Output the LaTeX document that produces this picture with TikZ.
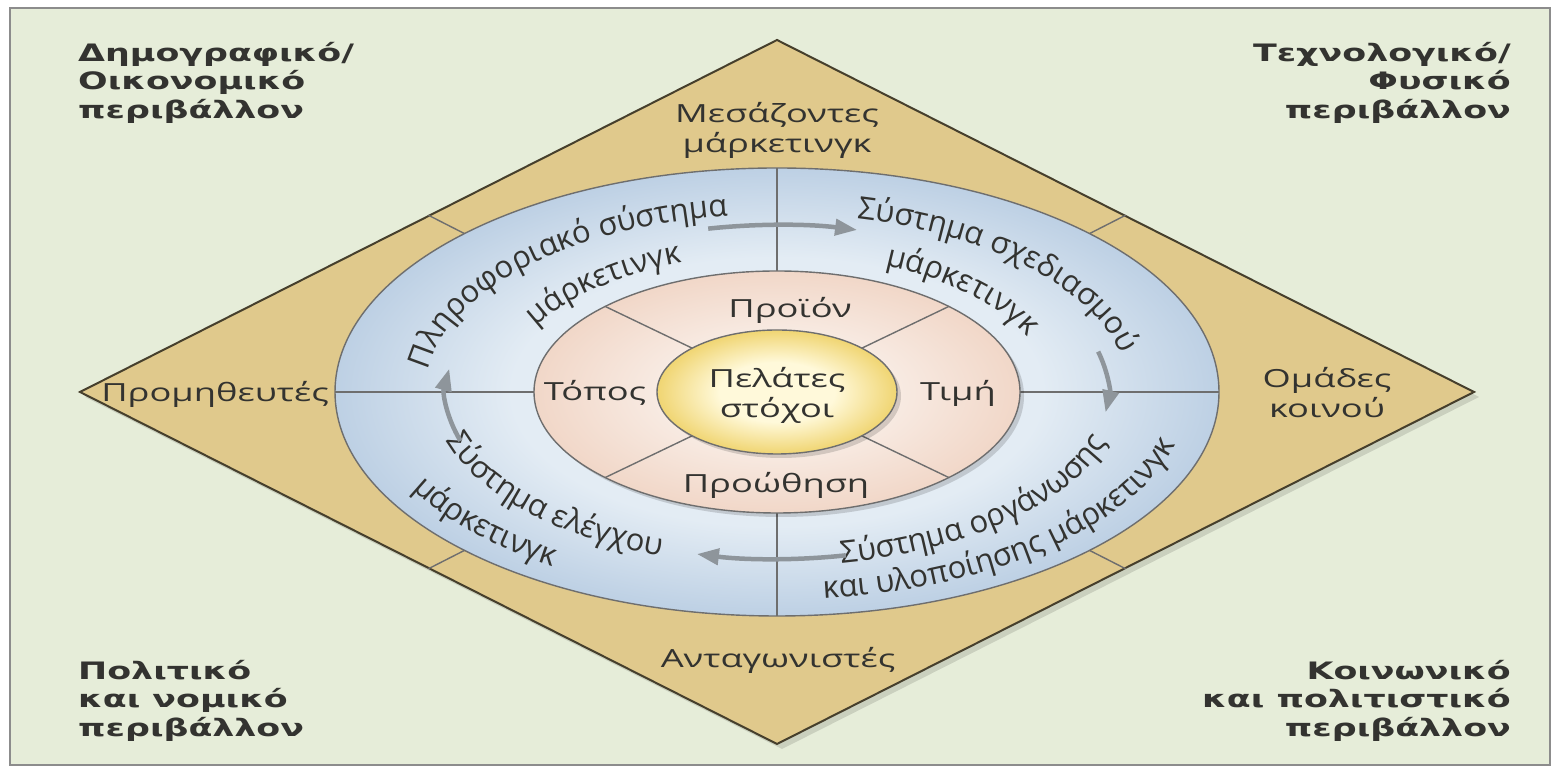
\documentclass[tikz,border=0pt]{standalone}
\usepackage{fontspec}
\usetikzlibrary{arrows.meta,decorations.text}

\newfontfamily\flatfont{Open Sans}[FakeStretch=1.45]
\newfontfamily\ringfont{Open Sans}
\newfontfamily\cornerfont{DejaVu Sans}[FakeStretch=1.45]

\definecolor{bggreen}{HTML}{E6EDD9}
\definecolor{framegray}{HTML}{8C8C8C}
\definecolor{envtan}{HTML}{E0C98C}
\definecolor{diamondline}{HTML}{463F2C}
\definecolor{ringblueout}{HTML}{BDD0E4}
\definecolor{ringbluein}{HTML}{E3ECF4}
\definecolor{mixpink}{HTML}{F1D7C8}
\definecolor{mixpinkin}{HTML}{F8EBE3}
\definecolor{coreyellow}{HTML}{F0D572}
\definecolor{coreyellowin}{HTML}{FFF9DA}
\definecolor{linegray}{HTML}{6E6E6E}
\definecolor{arrowgray}{HTML}{8E959B}
\definecolor{txtgray}{HTML}{333330}

\pgfdeclareradialshading{blueshade}{\pgfpoint{0bp}{0bp}}{%
  color(0bp)=(ringbluein); color(15bp)=(ringbluein); color(25bp)=(ringblueout); color(50bp)=(ringblueout)}
\pgfdeclareradialshading{pinkshade}{\pgfpoint{0bp}{0bp}}{%
  color(0bp)=(mixpinkin); color(12bp)=(mixpinkin); color(25bp)=(mixpink); color(50bp)=(mixpink)}
\pgfdeclareradialshading{yellowshade}{\pgfpoint{0bp}{0bp}}{%
  color(0bp)=(coreyellowin); color(12bp)=(coreyellowin); color(25bp)=(coreyellow); color(50bp)=(coreyellow)}

\tikzset{
  corner/.style={font=\cornerfont\bfseries\fontsize{24}{28.5}\selectfont, text=txtgray, inner sep=0pt},
  envlabel/.style={font=\flatfont\fontsize{25}{30}\selectfont, text=txtgray, align=center, inner sep=0pt},
  divider/.style={draw=linegray, line width=1.4pt},
  ringline/.style={draw=linegray, line width=1.4pt, shade},
  ringarrow/.style={draw=arrowgray, line width=4.5pt, -{Triangle[length=22pt, width=16pt]}},
  ringtext/.style={decorate, decoration={text along path, text align=center, text color=txtgray,
      text={|\ringfont\fontsize{31}{34}\selectfont|#1}}},
}

\begin{document}
\begin{tikzpicture}[x=1pt, y=1pt]
  %% page
  \useasboundingbox (0,0) rectangle (1558,767);
  \fill[white] (0,0) rectangle (1558,767);
  \draw[fill=bggreen, draw=framegray, line width=2pt] (10,2) rectangle (1550,759);

  %% environment diamond
  \fill[black, opacity=.12] (85,370) -- (782,722) -- (1479,370) -- (782,18) -- cycle;
  \draw[fill=envtan, draw=diamondline, line width=2pt] (80,375) -- (777,727) -- (1474,375) -- (777,23) -- cycle;

  \begin{scope}[shift={(777,375)}]
    % marketing systems
    \path[ringline, shading=blueshade] (0,0) ellipse [x radius=442, y radius=224];
    \foreach \a in {45,135,225,315}
      \draw[divider] (\a:442 and 224) -- (\a:493 and 250);
    \foreach \a in {0,90,180,270}
      \draw[divider] (\a:243 and 121) -- (\a:442 and 224);

    % marketing mix
    \fill[black, opacity=.15] (4,-4) ellipse [x radius=243, y radius=121];
    \path[ringline, shading=pinkshade] (0,0) ellipse [x radius=243, y radius=121];
    \foreach \a in {45,135,225,315}
      \draw[divider] (\a:120 and 62) -- (\a:243 and 121);

    % target customers
    \fill[black, opacity=.15] (4,-4) ellipse [x radius=120, y radius=62];
    \path[ringline, shading=yellowshade] (0,0) ellipse [x radius=120, y radius=62];

    \node[envlabel] (target) at (0,-3) {Πελάτες\\στόχοι};
    \node[envlabel] (prod)   at (13,82)   {Προϊόν};
    \node[envlabel] (price)  at (181,-1)  {Τιμή};
    \node[envlabel] (promo)  at (-1,-93)  {Προώθηση};
    \node[envlabel] (place)  at (-182,-1) {Τόπος};

    % curved system names
    \path[ringtext={Πληροφοριακό σύστημα}] (175:352 and 178) arc[start angle=175, end angle=97, x radius=352, y radius=178];
    \path[ringtext={μάρκετινγκ}] (154:273 and 138) arc[start angle=154, end angle=109, x radius=273, y radius=138];
    \path[ringtext={Σύστημα σχεδιασμού}] (78:352 and 178) arc[start angle=78, end angle=10, x radius=352, y radius=178];
    \path[ringtext={μάρκετινγκ}] (67:273 and 138) arc[start angle=67, end angle=23, x radius=273, y radius=138];
    \path[ringtext={Σύστημα οργάνωσης}] (-82:345 and 174) arc[start angle=-82, end angle=-12, x radius=345, y radius=174];
    \path[ringtext={και υλοποίησης μάρκετινγκ}] (-85:412 and 208) arc[start angle=-85, end angle=-12, x radius=412, y radius=208];
    \path[ringtext={Σύστημα ελέγχου}] (195:345 and 174) arc[start angle=195, end angle=251, x radius=345, y radius=174];
    \path[ringtext={μάρκετινγκ}] (205:412 and 208) arc[start angle=205, end angle=239, x radius=412, y radius=208];

    % flow arrows
    \draw[ringarrow] (102:331 and 167) arc[start angle=102, end angle=76, x radius=331, y radius=167];
    \draw[ringarrow] (14:331 and 167) arc[start angle=14, end angle=-7, x radius=331, y radius=167];
    \draw[ringarrow] (-78:331 and 167) arc[start angle=-78, end angle=-104, x radius=331, y radius=167];
    \draw[ringarrow] (197:331 and 167) arc[start angle=197, end angle=172, x radius=331, y radius=167];
  \end{scope}

  %% actors in the diamond
  \node[envlabel] (inter)  at (777,637)  {Μεσάζοντες\\μάρκετινγκ};
  \node[envlabel] (suppl)  at (215,373)  {Προμηθευτές};
  \node[envlabel] (publ)   at (1327,374) {Ομάδες\\κοινού};
  \node[envlabel] (compet) at (778,107)  {Ανταγωνιστές};

  %% macro environment
  \node[corner, anchor=north west, align=left]  (demo)   at (78,725)   {Δημογραφικό/\\Οικονομικό\\περιβάλλον};
  \node[corner, anchor=north east, align=right] (tech)   at (1511,725) {Τεχνολογικό/\\Φυσικό\\περιβάλλον};
  \node[corner, anchor=north west, align=left]  (polit)  at (78,107)   {Πολιτικό\\και νομικό\\περιβάλλον};
  \node[corner, anchor=north east, align=right] (social) at (1511,107) {Κοινωνικό\\και πολιτιστικό\\περιβάλλον};
\end{tikzpicture}
\end{document}
